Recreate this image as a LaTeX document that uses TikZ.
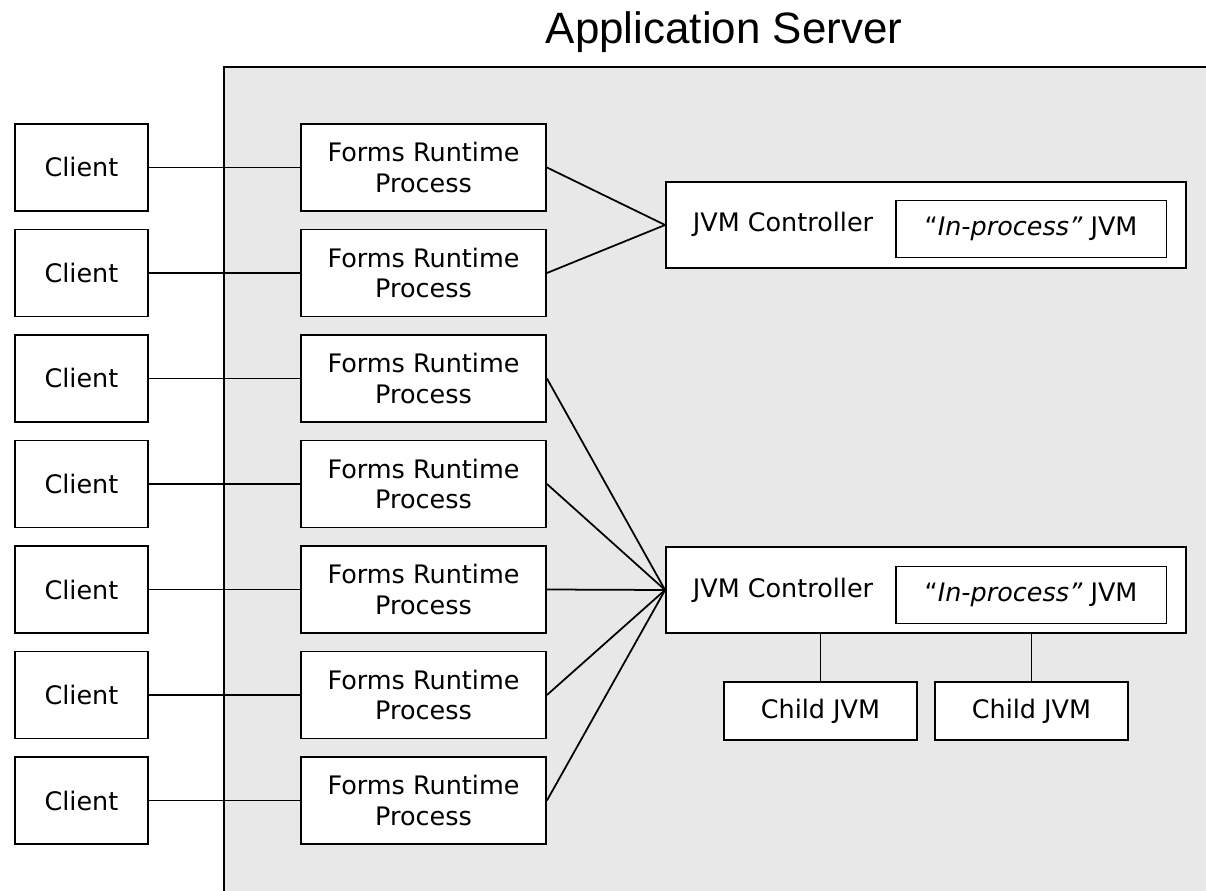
\documentclass[tikz,border=0pt]{standalone}
\usepackage{fontspec}
\setmainfont{DejaVu Sans}
\newfontfamily\titlefont{Liberation Sans}
\usepackage{tikz}
\usetikzlibrary{positioning}
\definecolor{servergray}{RGB}{232,232,232}
\begin{document}
\begin{tikzpicture}[x=0.02cm, y=-0.02cm,
    clientbox/.style={draw, fill=white, line width=1.1pt, minimum width=2.66cm, minimum height=1.74cm, font=\fontsize{14.5}{17.6}\selectfont},
    formbox/.style={draw, fill=white, line width=1.1pt, minimum width=4.9cm, minimum height=1.74cm, align=center, font=\fontsize{14.5}{17.6}\selectfont},
    ctrlbox/.style={draw, fill=white, line width=1.1pt, minimum width=10.4cm, minimum height=1.72cm},
    jvmbox/.style={draw, fill=white, line width=1.1pt, minimum width=5.42cm, minimum height=1.14cm, font=\fontsize{14.5}{17.6}\selectfont},
    childbox/.style={draw, fill=white, line width=1.1pt, minimum width=3.86cm, minimum height=1.16cm, font=\fontsize{14.5}{17.6}\selectfont},
    wire/.style={line width=1pt}]
            \useasboundingbox (0,0) rectangle (1206,891);
            % the server
            \fill[servergray] (224,67) rectangle (1210,895);
            \draw[line width=1.1pt] (224,895) -- (224,67) -- (1210,67);
            \node[anchor=base, font=\titlefont\fontsize{25}{30}\selectfont] (title) at (724,44) {Application Server};

            \node[ctrlbox] (ctrlA) at (926,225) {};
            \node[font=\fontsize{14.5}{17.6}\selectfont] (ctrlAtext) at (783,224) {JVM Controller};
            \node[jvmbox] (jvmA) at (1031,229) {“\textit{In-process”} JVM};

            \node[ctrlbox] (ctrlB) at (926,590) {};
            \node[font=\fontsize{14.5}{17.6}\selectfont] (ctrlBtext) at (783,590) {JVM Controller};
            \node[jvmbox] (jvmB) at (1031,595) {“\textit{In-process”} JVM};

            \node[childbox] (childA) at (820.5,711) {Child JVM};
            \node[childbox] (childB) at (1031.5,711) {Child JVM};
            \draw[wire] (childA.north |- ctrlB.south) -- (childA.north);
            \draw[wire] (childB.north |- ctrlB.south) -- (childB.north);

            \node[clientbox] (client1) at (81.5,167.5) {Client};
            \node[formbox] (form1) at (423.5,167.5) {Forms Runtime\\Process};
            \draw[wire] (client1) -- (form1);
            \draw[wire] (form1.east) -- (ctrlA.west);

            \node[clientbox] (client2) at (81.5,273) {Client};
            \node[formbox] (form2) at (423.5,273) {Forms Runtime\\Process};
            \draw[wire] (client2) -- (form2);
            \draw[wire] (form2.east) -- (ctrlA.west);

            \node[clientbox] (client3) at (81.5,378.5) {Client};
            \node[formbox] (form3) at (423.5,378.5) {Forms Runtime\\Process};
            \draw[wire] (client3) -- (form3);
            \draw[wire] (form3.east) -- (ctrlB.west);

            \node[clientbox] (client4) at (81.5,484) {Client};
            \node[formbox] (form4) at (423.5,484) {Forms Runtime\\Process};
            \draw[wire] (client4) -- (form4);
            \draw[wire] (form4.east) -- (ctrlB.west);

            \node[clientbox] (client5) at (81.5,589.5) {Client};
            \node[formbox] (form5) at (423.5,589.5) {Forms Runtime\\Process};
            \draw[wire] (client5) -- (form5);
            \draw[wire] (form5.east) -- (ctrlB.west);

            \node[clientbox] (client6) at (81.5,695) {Client};
            \node[formbox] (form6) at (423.5,695) {Forms Runtime\\Process};
            \draw[wire] (client6) -- (form6);
            \draw[wire] (form6.east) -- (ctrlB.west);

            \node[clientbox] (client7) at (81.5,800.5) {Client};
            \node[formbox] (form7) at (423.5,800.5) {Forms Runtime\\Process};
            \draw[wire] (client7) -- (form7);
            \draw[wire] (form7.east) -- (ctrlB.west);
        \end{tikzpicture}
\end{document}
